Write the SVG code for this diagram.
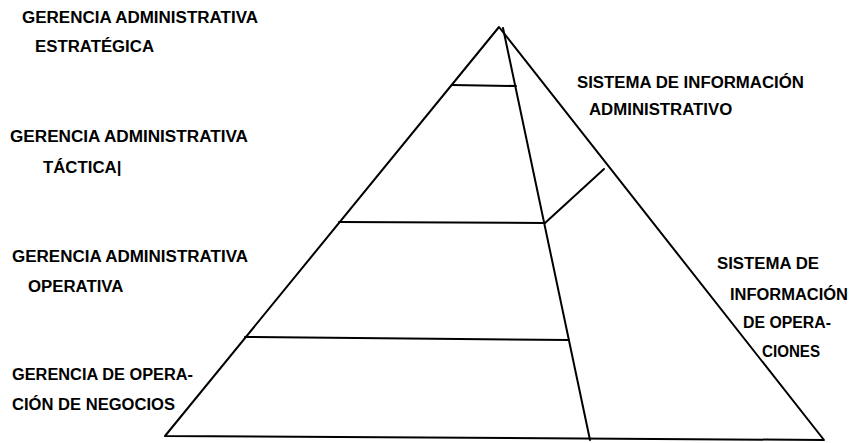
<svg xmlns="http://www.w3.org/2000/svg" width="852" height="443" viewBox="0 0 852 443">
<style>
  .ln { stroke: #000; stroke-width: 2; fill: none; stroke-linecap: round; stroke-linejoin: round; }
  .t { font-family: "Liberation Sans", Arial, sans-serif; font-weight: bold; font-size: 16.8px; fill: #000; }
</style>
<rect width="852" height="443" fill="#fff"/>
<g id="pyramid">
  <path class="ln" d="M499,27 L165,436 L824,440 Z"/>
  <line class="ln" x1="503" y1="28" x2="590" y2="440"/>
  <line class="ln" x1="452" y1="85" x2="516" y2="86"/>
  <line class="ln" x1="339" y1="222" x2="545" y2="223"/>
  <line class="ln" x1="245" y1="337" x2="569" y2="340"/>
  <line class="ln" x1="545" y1="223" x2="604" y2="169"/>
</g>
<g id="label-estrategica">
  <text class="t" x="22" y="23" textLength="236" lengthAdjust="spacingAndGlyphs">GERENCIA ADMINISTRATIVA</text>
  <text class="t" x="35" y="52">ESTRATÉGICA</text>
</g>
<g id="label-tactica">
  <text class="t" x="10" y="142" textLength="238" lengthAdjust="spacingAndGlyphs">GERENCIA ADMINISTRATIVA</text>
  <text class="t" x="43" y="173">TÁCTICA|</text>
</g>
<g id="label-operativa">
  <text class="t" x="12" y="262" textLength="236" lengthAdjust="spacingAndGlyphs">GERENCIA ADMINISTRATIVA</text>
  <text class="t" x="28" y="292">OPERATIVA</text>
</g>
<g id="label-negocios">
  <text class="t" x="12" y="380" textLength="181" lengthAdjust="spacingAndGlyphs">GERENCIA DE OPERA-</text>
  <text class="t" x="12" y="410" textLength="163" lengthAdjust="spacingAndGlyphs">CIÓN DE NEGOCIOS</text>
</g>
<g id="label-sia">
  <text class="t" x="577" y="88">SISTEMA DE INFORMACIÓN</text>
  <text class="t" x="589" y="115">ADMINISTRATIVO</text>
</g>
<g id="label-sio">
  <text class="t" x="717" y="269">SISTEMA DE</text>
  <text class="t" x="730" y="300" textLength="118" lengthAdjust="spacingAndGlyphs">INFORMACIÓN</text>
  <text class="t" x="743" y="328" textLength="88" lengthAdjust="spacingAndGlyphs">DE OPERA-</text>
  <text class="t" x="762" y="357" textLength="58" lengthAdjust="spacingAndGlyphs">CIONES</text>
</g>
</svg>
